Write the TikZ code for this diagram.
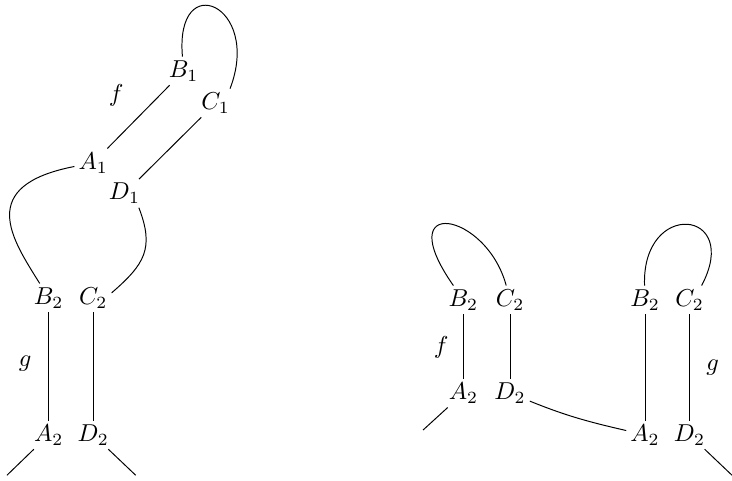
\documentclass[tikz,border=0pt]{standalone}
\begin{document}
\begin{tikzpicture}[>=latex, every node/.style={inner sep=1.5pt}]
\useasboundingbox (0,0) rectangle (10.52,6.90);

% left diagram
\node (B1) at (2.64,5.88) {$B_1$};
\node (C1) at (3.10,5.42) {$C_1$};
\node (A1) at (1.34,4.56) {$A_1$};
\node (D1) at (1.79,4.12) {$D_1$};
\node (f1) at (1.67,5.53) {$f$};
\node (B2) at (0.70,2.62) {$B_2$};
\node (C2) at (1.34,2.62) {$C_2$};
\node (A2) at (0.70,0.65) {$A_2$};
\node (D2) at (1.34,0.65) {$D_2$};
\node (g1) at (0.36,1.67) {$g$};
\coordinate (endA) at (0.10,0.07);
\coordinate (endD) at (1.95,0.07);

\draw (B1) -- (A1);
\draw (C1) -- (D1);
\draw (B1) to[out=95,in=69,looseness=4] (C1.45);
\draw (A1) to[out=191,in=122,out distance=1.45cm,in distance=0.75cm] (B2);
\draw (D1.-45) to[out=-69,in=41,looseness=1.25] (C2.15);
\draw (B2) -- (A2);
\draw (C2) -- (D2);
\draw (A2) -- (endA);
\draw (D2) -- (endD);

% right diagram
\node (B2r) at (6.66,2.59) {$B_2$};
\node (C2r) at (7.33,2.59) {$C_2$};
\node (A2r) at (6.66,1.25) {$A_2$};
\node (D2r) at (7.33,1.25) {$D_2$};
\node (f2) at (6.34,1.91) {$f$};
\node (B2s) at (9.27,2.59) {$B_2$};
\node (C2s) at (9.91,2.59) {$C_2$};
\node (A2s) at (9.27,0.65) {$A_2$};
\node (D2s) at (9.91,0.65) {$D_2$};
\node (g2) at (10.24,1.62) {$g$};
\coordinate (endAr) at (6.08,0.72);
\coordinate (endDs) at (10.52,0.07);

\draw (B2r) to[out=125,in=105,out distance=1.6cm,in distance=1.1cm] (C2r);
\draw (B2r) -- (A2r);
\draw (C2r) -- (D2r);
\draw (A2r) -- (endAr);
\draw (D2r) to[out=-22,in=167] (A2s);
\draw (B2s) to[out=92,in=62,looseness=3.9] (C2s.50);
\draw (B2s) -- (A2s);
\draw (C2s) -- (D2s);
\draw (D2s) -- (endDs);
\end{tikzpicture}
\end{document}
